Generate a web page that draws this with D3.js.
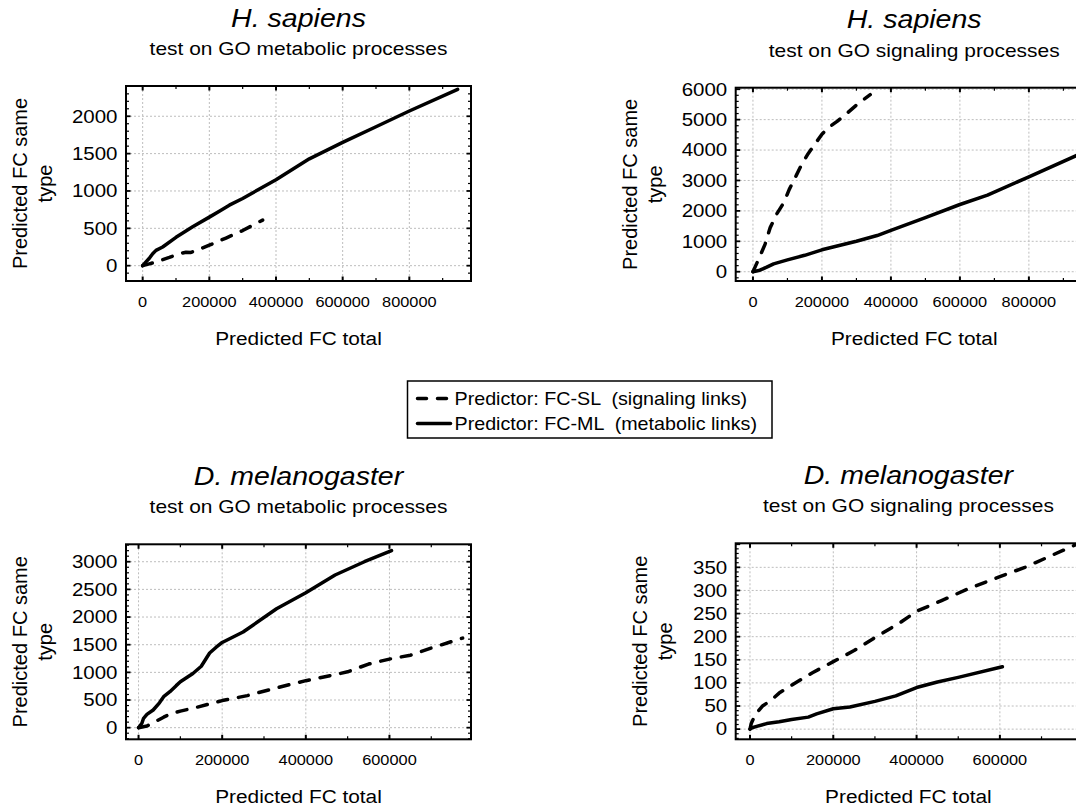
<!DOCTYPE html>
<html>
<head>
<meta charset="utf-8">
<script src="https://cdn.jsdelivr.net/npm/d3@7"></script>
<style>
  body { margin: 0; background: white; }
  svg { display: block; font-family: "Liberation Sans", Arial, sans-serif; }
</style>
</head>
<body>
<div id="chart"></div>
<script>
// Predicted FC same type vs predicted FC total, four panels

// panel titles
const species = ["H. sapiens", "H. sapiens", "D. melanogaster", "D. melanogaster"]
const subtitles = ["test on GO metabolic processes", "test on GO signaling processes",
                   "test on GO metabolic processes", "test on GO signaling processes"]

// tick labels
const xTicks12 = [0, 200000, 400000, 600000, 800000]
const xTicks34 = [0, 200000, 400000, 600000]
const yTicks1 = [0, 500, 1000, 1500, 2000]
const yTicks2 = [0, 1000, 2000, 3000, 4000, 5000, 6000]
const yTicks3 = [0, 500, 1000, 1500, 2000, 2500, 3000]
const yTicks4 = [0, 50, 100, 150, 200, 250, 300, 350]

// series: [total, same type]
// H. sapiens, metabolic processes
const hsMetSL = [[0,0],[20000,25],[40000,50],[60000,80],[80000,110],[110000,160],[130000,180],[145000,178],
  [170000,220],[200000,275],[250000,370],[300000,470],[360000,610]]
const hsMetML = [[0,0],[10000,50],[20000,100],[30000,160],[40000,205],[60000,250],[100000,380],[150000,520],
  [200000,650],[230000,730],[260000,810],[300000,900],[400000,1150],[500000,1430],[600000,1650],
  [700000,1860],[800000,2070],[945000,2360]]
// H. sapiens, signaling processes
const hsSigSL = [[0,0],[10000,250],[20000,500],[35000,900],[50000,1450],[70000,1920],[90000,2280],[105000,2700],
  [125000,3150],[140000,3500],[160000,3880],[180000,4200],[200000,4520],[220000,4750],[245000,4950],
  [270000,5180],[305000,5530],[340000,5820]]
const hsSigML = [[0,0],[20000,50],[40000,150],[60000,260],[100000,390],[150000,540],[200000,720],[300000,1000],
  [360000,1190],[400000,1360],[500000,1780],[600000,2210],[680000,2520],[800000,3120],[950000,3880]]
// D. melanogaster, metabolic processes
const dmMetSL = [[0,0],[20000,30],[40000,110],[60000,190],[80000,260],[100000,300],[140000,370],[200000,490],
  [260000,580],[330000,720],[400000,850],[470000,960],[500000,1010],[550000,1150],[600000,1240],
  [650000,1310],[700000,1440],[775000,1620]]
const dmMetML = [[0,0],[8000,80],[12000,170],[20000,240],[35000,320],[50000,450],[60000,560],[75000,650],
  [90000,760],[100000,830],[130000,980],[150000,1110],[170000,1350],[185000,1450],[200000,1540],
  [250000,1730],[330000,2150],[400000,2440],[470000,2760],[540000,3000],[605000,3200]]
// D. melanogaster, signaling processes
const dmSigSL = [[0,0],[3000,12],[8000,22],[16000,35],[30000,50],[50000,62],[70000,78],[100000,95],
  [150000,122],[200000,146],[250000,170],[300000,198],[360000,230],[400000,255],[460000,278],
  [520000,302],[600000,330],[660000,350],[790000,402]]
const dmSigML = [[0,0],[5000,3],[16000,6],[40000,12],[70000,16],[100000,21],[140000,26],[160000,33],
  [200000,44],[240000,48],[300000,60],[350000,72],[400000,90],[450000,102],[500000,112],[606000,135]]

const legendLabels = ["Predictor: FC-SL  (signaling links)", "Predictor: FC-ML  (metabolic links)"]

// layout
const SX = 1.12   // horizontal stretch of the text
const DASH = "10,11"

const panels = [
  { left: 126, top: 86, w: 345, h: 195, xd: [-50000, 985000], yd: [-205, 2405],
    xt: xTicks12, yt: yTicks1, ystep: 500, sl: hsMetSL, ml: hsMetML, lab: 99 },
  { left: 735.7, top: 87.7, w: 357, h: 193.3, xd: [-50000, 985000], yd: [-305, 6050],
    xt: xTicks12, yt: yTicks2, ystep: 1000, sl: hsSigSL, ml: hsSigML, lab: 99 },
  { left: 126, top: 544.3, w: 345, h: 195, xd: [-30000, 795000], yd: [-210, 3315],
    xt: xTicks34, yt: yTicks3, ystep: 500, sl: dmMetSL, ml: dmMetML, lab: 99 },
  { left: 735.7, top: 543.3, w: 345.4, h: 196, xd: [-34300, 795000], yd: [-22, 402],
    xt: xTicks34, yt: yTicks4, ystep: 50, sl: dmSigSL, ml: dmSigML, lab: 89 }
]

const svg = d3.select('#chart')
  .append('svg')
  .attr('width', 1076)
  .attr('height', 809)
  .style('background-color', 'white')

// stretched horizontal text
function stext(g, x, y, str, size, anchor) {
  return g.append("text")
    .attr("transform", "translate(" + x + "," + y + ") scale(" + SX + ",1)")
    .attr("text-anchor", anchor || "middle")
    .style("font-size", size + "px")
    .style("white-space", "pre")
    .style("fill", "black")
    .text(str)
}

panels.forEach(function(p, i) {
  const g = svg.append("g").attr("transform", "translate(" + p.left + "," + p.top + ")")
  const x = d3.scaleLinear().domain(p.xd).range([0, p.w])
  const y = d3.scaleLinear().domain(p.yd).range([p.h, 0])

  // grid
  g.selectAll(".vgrid").data(p.xt).enter().append("line")
    .attr("x1", d => x(d)).attr("x2", d => x(d))
    .attr("y1", 0).attr("y2", p.h)
    .style("stroke", "#bdbdbd").style("stroke-width", 1).style("stroke-dasharray", "2,2")
  g.selectAll(".hgrid").data(p.yt).enter().append("line")
    .attr("x1", 0).attr("x2", p.w)
    .attr("y1", d => y(d)).attr("y2", d => y(d))
    .style("stroke", "#bdbdbd").style("stroke-width", 1).style("stroke-dasharray", "2,2")

  // ticks on all four sides, pointing inward
  const xAll = d3.range(0, p.xd[1], 100000)
  const yMinor = d3.range(Math.ceil(p.yd[0] / (p.ystep / 5)) * (p.ystep / 5), p.yd[1], p.ystep / 5)
  xAll.forEach(function(v) {
    const major = v % 200000 === 0
    const len = major ? 4.5 : 3
    const sw = major ? 2 : 1.2
    g.append("line").attr("x1", x(v)).attr("x2", x(v)).attr("y1", 0).attr("y2", len)
      .style("stroke", "black").style("stroke-width", sw)
    g.append("line").attr("x1", x(v)).attr("x2", x(v)).attr("y1", p.h).attr("y2", p.h - len)
      .style("stroke", "black").style("stroke-width", sw)
  })
  yMinor.forEach(function(v) {
    const major = Math.abs(v % p.ystep) < 1e-6
    const len = major ? 4.5 : 3
    const sw = major ? 1.8 : 1.2
    g.append("line").attr("x1", 0).attr("x2", len).attr("y1", y(v)).attr("y2", y(v))
      .style("stroke", "black").style("stroke-width", sw)
    g.append("line").attr("x1", p.w).attr("x2", p.w - len).attr("y1", y(v)).attr("y2", y(v))
      .style("stroke", "black").style("stroke-width", sw)
  })

  // series
  const clipId = "clip" + i
  g.append("clipPath").attr("id", clipId).append("rect")
    .attr("x", 0).attr("y", 0).attr("width", p.w).attr("height", p.h)
  const line = d3.line().x(d => x(d[0])).y(d => y(d[1]))
  g.append("path").datum(p.ml)
    .attr("clip-path", "url(#" + clipId + ")")
    .attr("d", line)
    .style("fill", "none").style("stroke", "black").style("stroke-width", 3.5)
    .style("stroke-linejoin", "round").style("stroke-linecap", "round")
  g.append("path").datum(p.sl)
    .attr("clip-path", "url(#" + clipId + ")")
    .attr("d", line)
    .style("fill", "none").style("stroke", "black").style("stroke-width", 3.5)
    .style("stroke-dasharray", DASH)
    .style("stroke-linejoin", "round").style("stroke-linecap", "round")

  // frame
  g.append("rect")
    .attr("x", 0).attr("y", 0).attr("width", p.w).attr("height", p.h)
    .style("fill", "none").style("stroke", "black").style("stroke-width", 2)

  // tick labels
  p.xt.forEach(function(v) {
    stext(g, x(v), p.h + 25.7, String(v), 14.6)
  })
  p.yt.forEach(function(v) {
    stext(g, -8.5, y(v) + 6.3, String(v), 18.3, "end")
  })

  // titles
  stext(g, p.w / 2, -59.3, species[i], 25.5).style("font-style", "italic")
  stext(g, p.w / 2, -31, subtitles[i], 18.7)

  // axis labels
  stext(g, p.w / 2, p.h + 64, "Predicted FC total", 18.6)
  const yl = g.append("text")
    .attr("transform", "translate(" + (-p.lab) + "," + (p.h / 2) + ") rotate(-90)")
    .attr("text-anchor", "middle")
    .style("font-size", "20px")
  yl.append("tspan").attr("x", 0).attr("y", 0).text("Predicted FC same")
  yl.append("tspan").attr("x", 0).attr("y", 25).text("type")
})

// legend
const legend_x = 407.5
const legend_y = 381
const legend_w = 364.5
const legend_h = 57

svg.append("rect")
  .attr("x", legend_x).attr("y", legend_y)
  .attr("width", legend_w).attr("height", legend_h)
  .style("fill", "white").style("stroke", "black").style("stroke-width", 1.5)

legendLabels.forEach(function(t, i) {
  const ly = legend_y + 17.5 + i * 25
  svg.append("line")
    .attr("x1", legend_x + 10).attr("x2", legend_x + 43)
    .attr("y1", ly).attr("y2", ly)
    .style("stroke", "black").style("stroke-width", 3.5)
    .style("stroke-dasharray", i === 0 ? "9,11" : null)
    .style("stroke-linecap", "round")
  stext(svg, legend_x + 47, ly + 6, t, 17.6, "start")
})
</script>
</body>
</html>
